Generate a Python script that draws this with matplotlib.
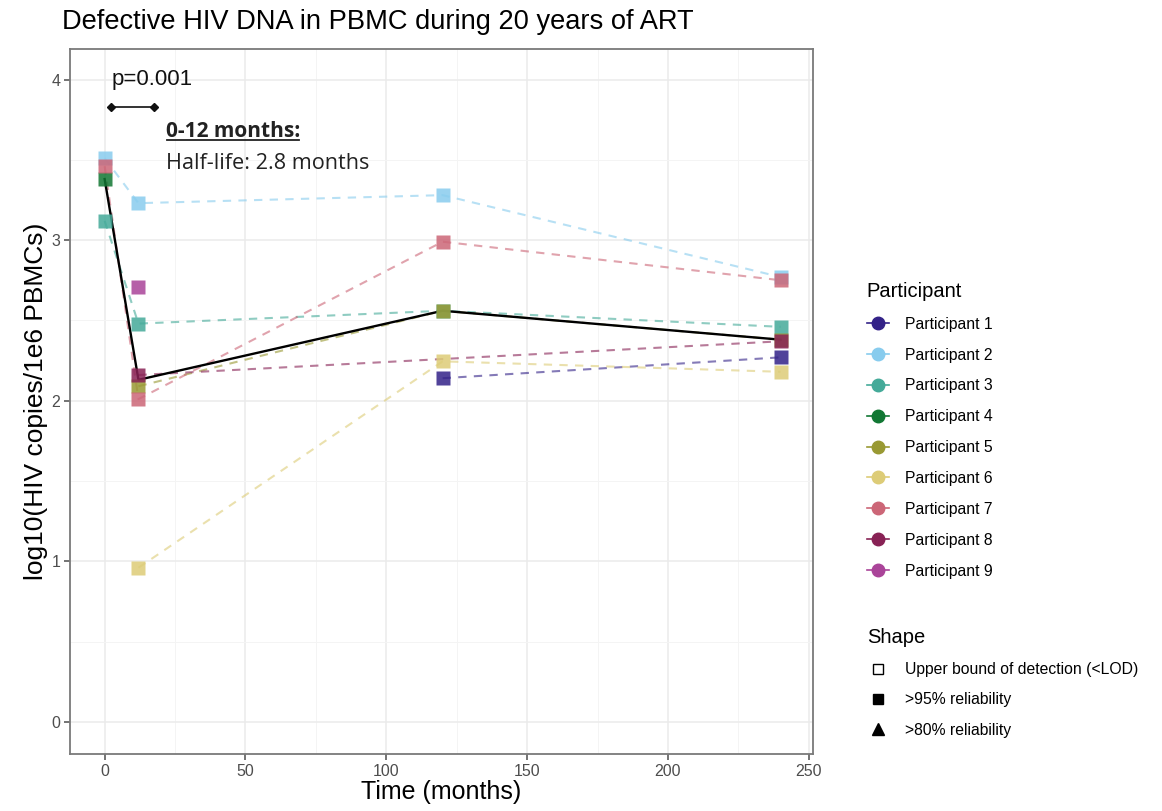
import numpy as np
import matplotlib
matplotlib.use("Agg")
import matplotlib.pyplot as plt
from matplotlib.lines import Line2D

plt.rcParams['font.family'] = ['Liberation Sans', 'DejaVu Sans']

# ---------------- data ----------------
months = [0, 12, 120, 240]
nan = np.nan
p1 = [nan, nan, 2.14, 2.27]
p2 = [3.51, 3.23, 3.28, 2.77]
p3 = [3.12, 2.48, 2.56, 2.46]
p4 = [3.38, nan, nan, nan]
p5 = [nan, 2.09, 2.56, 2.38]
p6 = [nan, 0.96, 2.245, 2.18]
p7 = [3.46, 2.01, 2.99, 2.75]
p8 = [nan, 2.16, nan, 2.37]
p9 = [nan, 2.71, nan, nan]
summary_line = [3.38, 2.13, 2.56, 2.38]

participants = ["Participant 1", "Participant 2", "Participant 3", "Participant 4",
                "Participant 5", "Participant 6", "Participant 7", "Participant 8",
                "Participant 9"]
series = [p1, p2, p3, p4, p5, p6, p7, p8, p9]
colors = ["#332288", "#88CCEE", "#44AA99", "#117733", "#999933",
          "#DDCC77", "#CC6677", "#882255", "#AA4499"]

shape_labels = ["Upper bound of detection (<LOD)", ">95% reliability", ">80% reliability"]

x_ticks = [0, 50, 100, 150, 200, 250]
y_ticks = [0, 1, 2, 3, 4]

# ---------------- figure ----------------
W, H = 1162, 811
fig = plt.figure(figsize=(W / 100, H / 100), dpi=100)
ax = fig.add_axes([70 / W, 1 - 754 / H, (813 - 70) / W, (754 - 49) / H])

ax.set_xlim(-12.3, 251.5)
ax.set_ylim(-0.2, 4.19)

# grid
ax.set_xticks(x_ticks)
ax.set_yticks(y_ticks)
ax.set_xticks([25, 75, 125, 175, 225], minor=True)
ax.set_yticks([0.5, 1.5, 2.5, 3.5], minor=True)
ax.grid(True, which='major', color='#ebebeb', lw=1.1)
ax.grid(True, which='minor', color='#f4f4f4', lw=0.7)
ax.set_axisbelow(True)
for s in ax.spines.values():
    s.set_color('#7a7a7a')
    s.set_linewidth(1.3)
ax.tick_params(which='major', length=4, width=1.1, color='#4d4d4d',
               labelsize=11.5, labelcolor='#4d4d4d', pad=3)
ax.tick_params(which='minor', length=0)

mx = np.array(months, dtype=float)
# dashed lines
for vals, c in zip(series, colors):
    v = np.array(vals, dtype=float)
    m = ~np.isnan(v)
    if m.sum() >= 2:
        ax.plot(mx[m], v[m], ls=(0, (4, 3.5)), color=c, lw=1.5, alpha=0.6, zorder=2)

# summary line
ax.plot(mx, summary_line, color='black', lw=1.7, zorder=3)

# points
for vals, c in zip(series, colors):
    v = np.array(vals, dtype=float)
    m = ~np.isnan(v)
    ax.plot(mx[m], v[m], ls='none', marker='s', ms=10, color=c, alpha=0.85,
            mec='none', zorder=4)

# annotation
ax.text(2.5, 4.0, "p=0.001", fontsize=16, ha='left', va='center', color='#111111',
        zorder=6)
ax.plot([2.2, 17.4], [3.83, 3.83], color='#111111', lw=1.2, marker='D', ms=4.5, zorder=6)
t1 = ax.text(21.7, 3.675, "0-12 months:", fontsize=15, fontweight='bold', family='Open Sans',
             ha='left', va='center', color='#222222', zorder=6)
ax.text(21.7, 3.48, "Half-life: 2.8 months", fontsize=15.6, family='Open Sans',
        ha='left', va='center', color='#222222', zorder=6)

fig.canvas.draw()
bb = t1.get_window_extent()
inv = ax.transData.inverted()
(xa, ya), (xb, yb) = inv.transform([(bb.x0 + 1, bb.y0 + 2), (bb.x1 - 1, bb.y0 + 2)])
ax.plot([xa, xb], [ya, yb], color='#222222', lw=1.3, zorder=6)

ax.set_xlabel("Time (months)", fontsize=18, color='black', labelpad=1)
ax.set_ylabel("log10(HIV copies/1e6 PBMCs)", fontsize=19, color='black', labelpad=2)

fig.text(62 / W, 1 - 22 / H, "Defective HIV DNA in PBMC during 20 years of ART",
         fontsize=19.6, ha='left', va='center', color='black')

# legends
ph = [Line2D([0], [0], color=c, lw=1.2, marker='o', ms=9, mec=c, mfc=c)
      for c in colors]
leg1 = fig.legend(ph, participants, loc='upper left',
                  bbox_to_anchor=(859 / W, 1 - 274 / H), frameon=False,
                  fontsize=11.3, title="Participant", title_fontsize=14.5,
                  alignment='left', handlelength=1.4, handletextpad=1.0,
                  labelspacing=1.01, borderpad=0)
sh = [Line2D([0], [0], ls='none', marker='s', ms=7.5, mfc='white', mec='black', mew=1),
      Line2D([0], [0], ls='none', marker='s', ms=7.5, color='black'),
      Line2D([0], [0], ls='none', marker='^', ms=8.5, color='black')]
leg2 = fig.legend(sh, shape_labels, loc='upper left',
                  bbox_to_anchor=(859 / W, 1 - 620 / H), frameon=False,
                  fontsize=11.3, title="Shape", title_fontsize=14.5,
                  alignment='left', handlelength=1.4, handletextpad=1.0,
                  labelspacing=0.97, borderpad=0)

fig.savefig("out.png", dpi=100)
